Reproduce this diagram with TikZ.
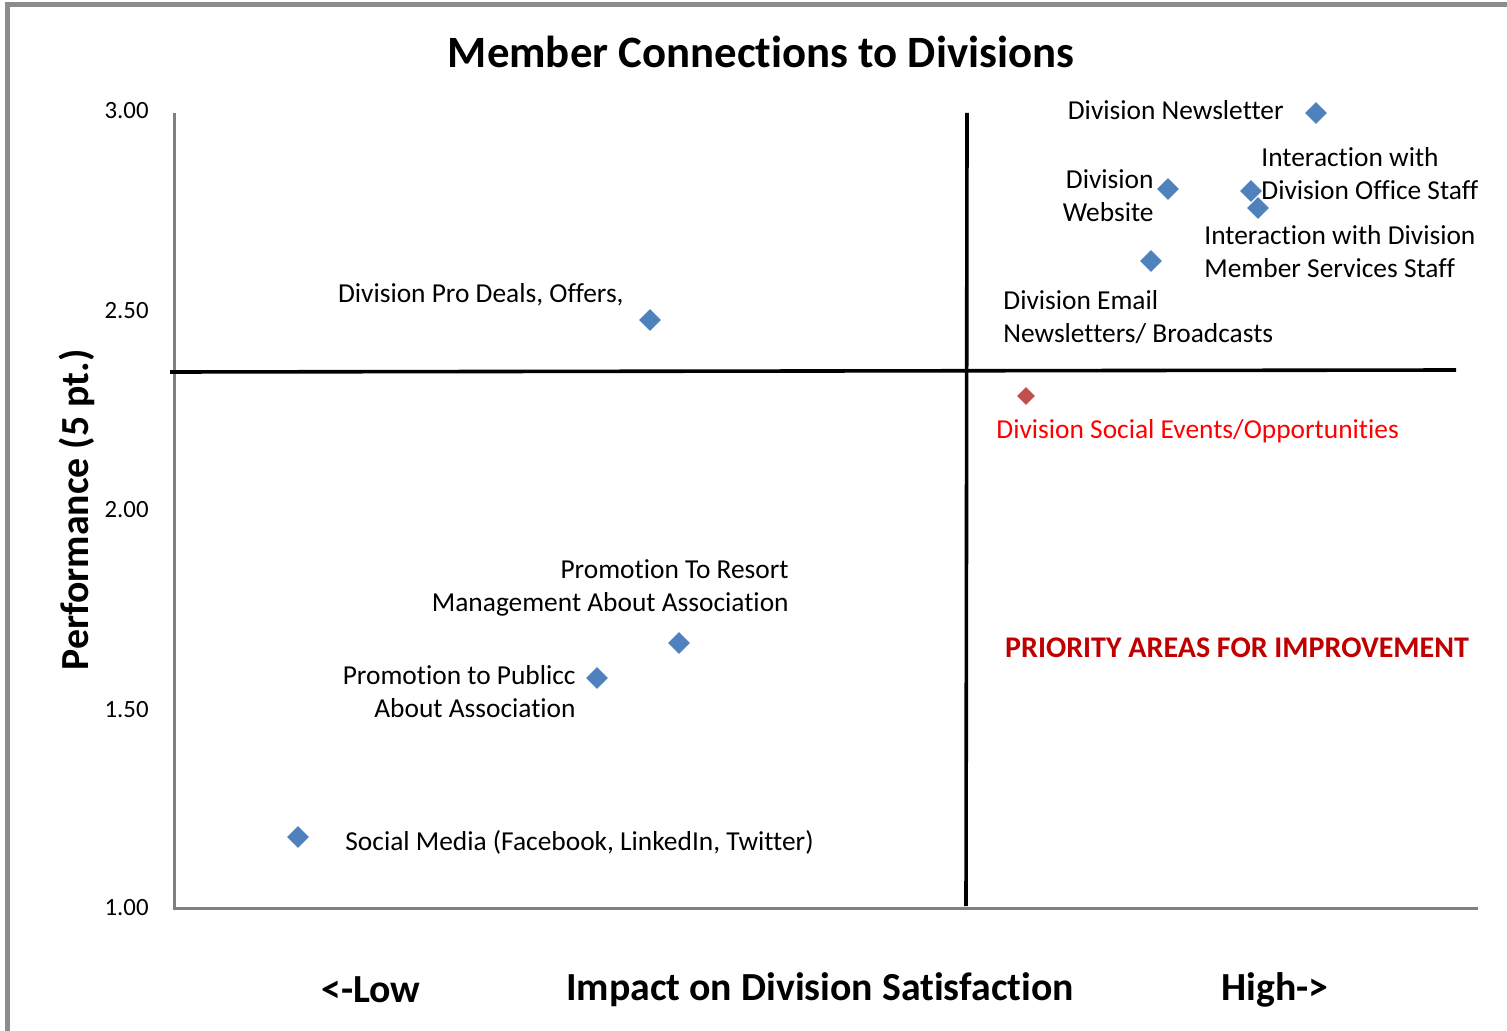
\documentclass[tikz,border=0pt]{standalone}
\usepackage{fontspec}
\setmainfont{Carlito}[Ligatures={NoCommon}]
\usetikzlibrary{shapes.geometric}
\definecolor{pointblue}{HTML}{4F81BD}
\definecolor{pointred}{HTML}{C0504D}
\definecolor{darkred}{HTML}{C00000}
\tikzset{
  pt/.style={diamond,fill=pointblue,inner sep=0pt,minimum size=11pt},
  lbl/.style={inner sep=0pt,font=\fontsize{13.7}{16.5}\selectfont},
  tick/.style={inner sep=0pt,anchor=east,font=\fontsize{12.4}{14}\selectfont},
  big/.style={inner sep=0pt,font=\fontsize{19.9}{22}\selectfont\bfseries}
}
\begin{document}
\begin{tikzpicture}[x=0.5pt,y=-0.5pt]
\useasboundingbox (0,0) rectangle (1507,1031);
\draw[gray!90,line width=2.5] (7,1031)--(7,5)--(1507,5);

\node[inner sep=0pt,font=\fontsize{22.4}{25}\selectfont\bfseries] (title) at (761,52) {Member Connections to Divisions};

% axes
\coordinate (o) at (174,908);
\coordinate (ytop) at (174,113);
\coordinate (xend) at (1478,908);
\draw[gray,line width=1.5] (ytop)--(o)--(xend);
\foreach \v/\y in {3.00/111,2.50/311,2.00/510,1.50/710,1.00/908}
  \node[tick] (t\y) at (149,\y) {\v};

% quadrants
\coordinate (v1) at (967,113);
\coordinate (v2) at (966,906);
\coordinate (h1) at (170,372);
\coordinate (h2) at (1456,370);
\draw[line width=1.8] (v1)--(v2);
\draw[line width=1.8] (h1)--(h2);

% points
\node[pt] (news) at (1316,113) {};
\node[pt] (web) at (1168,189) {};
\node[pt] (office) at (1251,191) {};
\node[pt] (member) at (1258,208) {};
\node[pt] (email) at (1151,261) {};
\node[pt] (deals) at (650,320) {};
\node[pt,fill=pointred,minimum size=9pt] (social) at (1026,396) {};
\node[pt] (resort) at (679,643) {};
\node[pt] (public) at (597,678) {};
\node[pt] (media) at (298,837) {};

\node[lbl,anchor=east] (newsl) at (1284,110) {Division Newsletter};
\node[lbl,anchor=east,align=right] (webl) at (1154,196) {Division\\Website};
\node[lbl,anchor=west,align=left] (officel) at (1261,174) {Interaction with\\Division Office Staff};
\node[lbl,anchor=west,align=left] (memberl) at (1204,252) {Interaction with Division\\Member Services Staff};
\node[lbl,anchor=west,align=left] (emaill) at (1003,317) {Division Email\\Newsletters/ Broadcasts};
\node[lbl,anchor=east] (dealsl) at (624,295) {Division Pro Deals, Offers,};
\node[lbl,anchor=west,text=red] (sociall) at (996,431) {Division Social Events/Opportunities};
\node[lbl,anchor=east,align=right] (resortl) at (789,588) {Promotion To Resort\\Management About Association};
\node[lbl,anchor=east,align=right] (publicl) at (576,692) {Promotion to Publicc\\About Association};
\node[lbl,anchor=west] (medial) at (345,842) {Social Media (Facebook, LinkedIn, Twitter)};

\node[inner sep=0pt,font=\fontsize{15}{18}\selectfont\bfseries,text=darkred] (prio) at (1237,648) {PRIORITY AREAS FOR IMPROVEMENT};

% axis titles
\node[big,rotate=90] (perf) at (77,510) {Performance (5 pt.)};
\node[big] (low) at (371,990) {<-Low};
\node[big] (impact) at (820,990) {Impact on Division Satisfaction};
\node[big] (high) at (1275,990) {High->};
\end{tikzpicture}
\end{document}
